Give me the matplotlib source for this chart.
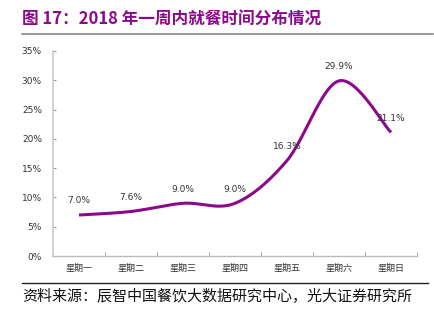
import numpy as np
import matplotlib
matplotlib.use("Agg")
import matplotlib.pyplot as plt
from matplotlib.ticker import FuncFormatter, FixedLocator

plt.rcParams['font.family'] = ['Noto Sans CJK SC', 'DejaVu Sans']

categories = ['星期一', '星期二', '星期三', '星期四', '星期五', '星期六', '星期日']
values = [7.0, 7.6, 9.0, 9.0, 16.3, 29.9, 21.1]
labels = ['7.0%', '7.6%', '9.0%', '9.0%', '16.3%', '29.9%', '21.1%']
title = '图 17：2018 年一周内就餐时间分布情况'
source = '资料来源：辰智中国餐饮大数据研究中心，光大证券研究所'

purple = '#8B0A8B'

def smooth(x, y, n=30):
    # Catmull-Rom style bezier smoothing between given points
    x = np.asarray(x, float); y = np.asarray(y, float)
    xs, ys = [], []
    m = len(x)
    for i in range(m - 1):
        p0 = (x[i-1], y[i-1]) if i > 0 else (x[i], y[i])
        p1 = (x[i], y[i]); p2 = (x[i+1], y[i+1])
        p3 = (x[i+2], y[i+2]) if i + 2 < m else (x[i+1], y[i+1])
        c1 = (p1[0] + (p2[0]-p0[0])/6, p1[1] + (p2[1]-p0[1])/6)
        c2 = (p2[0] - (p3[0]-p1[0])/6, p2[1] - (p3[1]-p1[1])/6)
        t = np.linspace(0, 1, n)
        bx = (1-t)**3*p1[0] + 3*(1-t)**2*t*c1[0] + 3*(1-t)*t**2*c2[0] + t**3*p2[0]
        by = (1-t)**3*p1[1] + 3*(1-t)**2*t*c1[1] + 3*(1-t)*t**2*c2[1] + t**3*p2[1]
        xs.append(bx); ys.append(by)
    return np.concatenate(xs), np.concatenate(ys)

fig = plt.figure(figsize=(4.35, 3.25), dpi=100)
ax = fig.add_axes([53/435, 1 - 256/325, (417-53)/435, (256-51)/325])

x = np.arange(len(categories))
sx, sy = smooth(x, values)
ax.plot(sx, sy, color=purple, lw=2.2, solid_capstyle='butt')
for xi, v, lab in zip(x, values, labels):
    ax.annotate(lab, (xi, v), xytext=(0, 7), textcoords='offset points',
                ha='center', va='bottom', fontsize=6.5, color='#333333',
                family=['DejaVu Sans'])

ax.set_xlim(-0.5, len(categories) - 0.5)
ax.set_ylim(0, 35)
ax.set_yticks(np.arange(0, 36, 5))
ax.yaxis.set_major_formatter(FuncFormatter(lambda v, p: f'{v:.0f}%'))
ax.set_xticks(x)
ax.set_xticklabels(categories)
ax.xaxis.set_minor_locator(FixedLocator(np.arange(-0.5, len(categories), 1)))
ax.tick_params(axis='x', which='major', length=0, labelsize=6.5, pad=6, colors='#333333')
ax.tick_params(axis='x', which='minor', length=3, direction='in', color='#999999')
ax.tick_params(axis='y', length=2.5, direction='in', color='#999999', labelsize=6.5,
               labelcolor='#333333', pad=8)
for t in ax.get_yticklabels():
    t.set_family(['DejaVu Sans'])
for s in ['top', 'right']:
    ax.spines[s].set_visible(False)
ax.spines['left'].set_color('#cccccc')
ax.spines['left'].set_linewidth(1.2)
ax.spines['bottom'].set_color('#bbbbbb')
ax.spines['bottom'].set_linewidth(1.0)

fig.text(22/435, 1 - 19/325, title, fontsize=12, fontweight='bold', color=purple,
         ha='left', va='center')
fig.add_artist(plt.Line2D([22/435, 433/435], [1 - 34/325, 1 - 34/325], color='#888888', lw=1.2))
fig.add_artist(plt.Line2D([22/435, 428/435], [1 - 283/325, 1 - 283/325], color='#222222', lw=1.0))
fig.text(22/435, 1 - 297/325, source, fontsize=10.8, color='#111111', ha='left', va='center')

fig.savefig('out.png', dpi=100)
